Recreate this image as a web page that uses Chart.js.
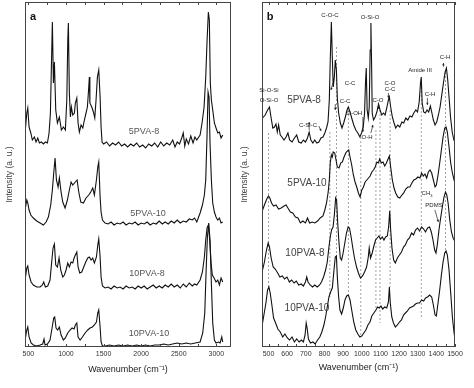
<!DOCTYPE html>
<html>
<head>
<meta charset="utf-8">
<script src="https://cdn.jsdelivr.net/npm/chart.js@4.4.1/dist/chart.umd.min.js"></script>
<style>
  body { margin: 0; background: #fff; }
  #wrap { position: relative; width: 474px; height: 388px; font-family: "Liberation Sans", Arial, sans-serif; }
  canvas { position: absolute; top: 0; }
  .lbl { position: absolute; white-space: nowrap; transform: translate(-50%, -50%); line-height: 1; }
</style>
</head>
<body>
<div id="wrap">
  <canvas id="chartA" width="237" height="388" style="left:0"></canvas>
  <canvas id="chartB" width="237" height="388" style="left:237px"></canvas>
</div>
<script>
'use strict';

// ---- panel a : full range spectra, [wavenumber, intensity (offset a.u.)]
var aTicks = [500, 1000, 1500, 2000, 2500, 3000];

var a5PVA8 = [[456,214],[479,234],[492,239],[509,220],[532,214],[553,207],[580,210],[602,205],[625,209],[646,204],[673,205],[700,203],[726,205],[753,204],[775,214],[793,234],[806,280],[819,325],[833,264],[846,285],[864,237],[886,224],[912,230],[939,217],[966,220],[992,217],[1011,247],[1024,307],[1032,324],[1045,254],[1059,230],[1072,240],[1090,232],[1112,234],[1125,244],[1144,249],[1161,224],[1178,215],[1201,222],[1224,219],[1245,227],[1267,234],[1285,240],[1303,260],[1311,270],[1318,244],[1343,240],[1365,235],[1383,229],[1400,247],[1418,270],[1436,277],[1454,250],[1467,220],[1480,205],[1500,203],[1540,205],[1580,201],[1620,204],[1660,202],[1700,205],[1740,201],[1780,203],[1820,200],[1860,203],[1900,201],[1940,204],[1980,200],[2020,202],[2060,199],[2100,203],[2140,201],[2180,204],[2220,200],[2260,205],[2300,201],[2340,204],[2380,202],[2420,207],[2450,200],[2480,205],[2510,203],[2540,209],[2560,214],[2580,201],[2600,208],[2630,203],[2660,211],[2690,204],[2715,210],[2740,207],[2784,212],[2810,224],[2837,240],[2859,270],[2877,307],[2894,335],[2907,327],[2920,264],[2934,247],[2952,237],[2974,224],[2996,219],[3019,214],[3041,215],[3063,209],[3085,212]];

var a5PVA10 = [[456,137],[479,147],[492,144],[509,137],[532,132],[566,129],[611,126],[656,124],[700,122],[735,125],[766,130],[797,142],[819,157],[837,174],[855,189],[873,167],[895,160],[912,169],[935,155],[957,145],[988,139],[1019,147],[1045,157],[1068,165],[1090,162],[1125,165],[1148,167],[1170,155],[1197,145],[1232,144],[1267,149],[1303,152],[1329,155],[1356,159],[1378,152],[1405,167],[1423,180],[1436,185],[1454,150],[1467,135],[1485,127],[1520,124],[1560,123],[1600,125],[1640,122],[1680,124],[1720,123],[1760,125],[1800,122],[1840,124],[1880,123],[1920,125],[1960,122],[2000,124],[2040,123],[2080,125],[2120,122],[2160,124],[2200,123],[2240,126],[2280,123],[2320,125],[2360,123],[2400,126],[2440,124],[2480,127],[2520,124],[2560,126],[2600,125],[2640,128],[2680,127],[2710,129],[2740,125],[2784,134],[2815,142],[2841,152],[2859,167],[2877,214],[2890,255],[2903,250],[2916,204],[2934,167],[2952,144],[2974,135],[2996,130],[3019,127],[3041,129],[3063,124],[3085,125]];

var a10PVA8 = [[456,67],[479,79],[492,81],[509,72],[536,65],[566,62],[611,60],[656,60],[686,62],[704,65],[726,60],[757,61],[788,67],[810,85],[828,99],[846,103],[864,82],[886,80],[908,89],[930,77],[957,70],[979,72],[1001,77],[1024,84],[1045,80],[1068,85],[1090,84],[1108,89],[1125,92],[1144,95],[1161,80],[1183,74],[1210,75],[1236,80],[1263,85],[1290,89],[1311,90],[1334,87],[1356,89],[1378,84],[1405,90],[1423,102],[1436,108],[1454,90],[1467,70],[1485,61],[1520,59],[1560,60],[1600,58],[1640,61],[1680,59],[1720,60],[1760,58],[1800,61],[1840,59],[1880,60],[1920,58],[1960,61],[2000,59],[2040,61],[2080,58],[2120,60],[2160,62],[2200,59],[2240,61],[2280,59],[2320,62],[2360,60],[2400,63],[2440,60],[2480,62],[2520,59],[2560,63],[2600,60],[2640,64],[2680,61],[2710,63],[2740,62],[2784,67],[2815,75],[2841,90],[2859,107],[2877,119],[2894,122],[2912,107],[2930,84],[2947,72],[2970,69],[2996,65],[3019,67],[3041,62],[3063,69],[3085,65]];

var a10PVA10 = [[456,7],[479,17],[492,20],[509,10],[536,4],[566,2],[611,1],[656,2],[691,3],[708,8],[722,2],[753,3],[788,7],[815,19],[837,29],[850,30],[868,19],[890,17],[912,20],[935,12],[966,7],[992,9],[1024,14],[1054,17],[1081,19],[1108,18],[1125,22],[1144,24],[1161,10],[1188,7],[1219,10],[1254,14],[1290,17],[1320,19],[1352,20],[1378,22],[1405,25],[1423,34],[1436,37],[1454,20],[1467,5],[1485,1],[1520,1],[1580,2],[1640,1],[1700,2],[1760,1],[1820,2],[1880,1],[1940,2],[2000,1],[2060,2],[2120,1],[2180,2],[2240,2],[2300,3],[2360,2],[2420,3],[2480,4],[2540,3],[2600,4],[2660,3],[2720,4],[2784,5],[2819,14],[2846,34],[2863,74],[2881,110],[2899,124],[2916,107],[2934,64],[2952,24],[2974,7],[2996,4],[3028,5],[3050,4],[3072,10],[3085,5]];

// ---- panel b : fingerprint region
var bTicks = [500, 600, 700, 800, 900, 1000, 1100, 1200, 1300, 1400, 1500];

var b5PVA8 = [[468,229],[482,232],[495,237],[505,240],[514,229],[523,219],[532,220],[540,223],[547,215],[554,222],[563,212],[572,210],[583,207],[594,210],[604,214],[613,207],[626,205],[639,209],[651,212],[662,205],[675,204],[687,207],[698,205],[709,209],[718,215],[727,207],[738,204],[748,207],[759,204],[770,205],[781,209],[792,210],[802,214],[811,219],[819,225],[826,247],[831,287],[837,325],[842,290],[847,260],[853,270],[858,287],[864,277],[869,249],[876,234],[885,224],[894,219],[903,224],[912,230],[921,237],[928,240],[937,235],[946,229],[957,222],[968,217],[979,214],[990,210],[999,214],[1008,220],[1015,234],[1020,264],[1024,279],[1029,237],[1035,229],[1040,240],[1045,297],[1049,324],[1053,280],[1056,234],[1063,227],[1072,230],[1081,235],[1090,243],[1098,237],[1107,232],[1116,234],[1125,232],[1134,239],[1143,247],[1148,250],[1155,240],[1164,230],[1173,224],[1182,219],[1193,222],[1204,220],[1215,225],[1225,224],[1236,229],[1247,227],[1258,231],[1269,230],[1279,234],[1290,237],[1299,235],[1308,245],[1315,264],[1319,270],[1324,244],[1332,235],[1341,234],[1350,237],[1359,235],[1368,241],[1375,235],[1384,227],[1393,222],[1402,225],[1411,232],[1420,240],[1429,252],[1438,264],[1447,275],[1454,279],[1461,267],[1468,250],[1476,230],[1485,215],[1494,207],[1501,205]];

var b5PVA10 = [[468,137],[482,144],[493,149],[500,151],[507,149],[516,144],[527,141],[540,142],[554,138],[568,139],[583,141],[594,142],[604,139],[617,135],[630,134],[644,130],[658,129],[671,124],[684,126],[698,124],[709,129],[720,124],[734,125],[748,124],[763,126],[777,129],[792,131],[802,137],[811,144],[820,155],[826,167],[831,184],[837,192],[842,190],[847,195],[855,194],[862,187],[869,180],[878,179],[887,184],[896,185],[905,190],[914,194],[923,196],[930,197],[937,190],[946,182],[955,172],[964,165],[973,160],[982,154],[991,150],[1000,157],[1009,160],[1018,165],[1027,167],[1036,169],[1045,171],[1054,175],[1063,177],[1072,180],[1081,185],[1089,184],[1096,188],[1105,184],[1114,185],[1123,181],[1132,184],[1141,188],[1148,191],[1155,180],[1164,167],[1173,159],[1182,154],[1193,150],[1204,149],[1215,152],[1225,154],[1236,158],[1247,160],[1258,160],[1269,164],[1279,167],[1290,168],[1301,170],[1312,169],[1321,174],[1330,171],[1339,173],[1348,169],[1357,175],[1366,177],[1375,174],[1384,167],[1393,160],[1400,162],[1409,172],[1418,184],[1427,197],[1436,210],[1445,219],[1452,220],[1459,215],[1468,200],[1477,184],[1486,174],[1495,167],[1501,164]];

var b10PVA8 = [[468,77],[478,85],[489,97],[498,104],[505,100],[514,89],[525,80],[536,78],[549,74],[561,70],[574,71],[586,68],[599,70],[612,65],[624,67],[637,64],[649,66],[662,62],[675,63],[687,61],[698,65],[705,70],[712,65],[723,62],[736,60],[748,62],[761,60],[774,62],[784,65],[795,70],[806,77],[815,85],[824,100],[831,110],[838,117],[846,120],[853,132],[860,149],[865,147],[871,124],[878,104],[885,89],[892,87],[900,94],[909,104],[918,114],[927,120],[934,119],[943,110],[952,99],[961,89],[972,80],[982,74],[993,69],[1004,71],[1015,75],[1026,80],[1035,90],[1040,99],[1047,89],[1056,94],[1065,101],[1074,107],[1083,109],[1092,111],[1101,108],[1110,110],[1119,107],[1128,110],[1137,111],[1144,120],[1150,136],[1155,117],[1162,99],[1171,87],[1180,84],[1191,89],[1202,92],[1213,95],[1224,100],[1234,102],[1245,107],[1256,109],[1267,114],[1278,112],[1288,117],[1299,119],[1310,116],[1321,120],[1332,118],[1342,115],[1353,119],[1364,120],[1373,115],[1382,107],[1391,97],[1398,94],[1405,102],[1414,117],[1423,129],[1432,140],[1441,150],[1449,155],[1456,152],[1463,144],[1472,127],[1481,115],[1490,109],[1501,105]];

var b10PVA10 = [[468,24],[477,34],[486,44],[495,57],[502,60],[509,54],[518,42],[527,29],[538,24],[550,18],[563,15],[576,10],[588,13],[601,9],[613,7],[626,10],[639,5],[651,8],[664,5],[676,7],[687,5],[696,12],[702,24],[707,19],[714,8],[725,4],[738,5],[750,3],[763,7],[775,10],[786,15],[797,22],[806,30],[815,40],[824,50],[833,55],[842,59],[851,77],[858,90],[864,91],[869,70],[876,50],[883,37],[892,33],[901,39],[910,47],[919,51],[928,52],[937,47],[946,37],[957,25],[968,17],[979,13],[990,10],[1000,11],[1011,14],[1022,17],[1033,22],[1044,25],[1054,31],[1065,34],[1076,37],[1085,40],[1094,39],[1103,41],[1112,38],[1123,40],[1134,39],[1143,45],[1148,60],[1153,44],[1161,30],[1170,24],[1180,20],[1191,22],[1202,25],[1213,27],[1224,32],[1234,34],[1245,36],[1256,39],[1267,40],[1278,41],[1288,43],[1299,44],[1310,44],[1321,47],[1332,46],[1342,49],[1353,50],[1364,52],[1375,50],[1384,42],[1393,32],[1400,31],[1409,44],[1418,57],[1427,72],[1436,85],[1445,94],[1452,96],[1459,92],[1468,77],[1477,54],[1486,30],[1495,14],[1501,7]];

// dotted band markers in panel b
var bandWave   = [500, 829, 864, 928, 995, 1076, 1098, 1152, 1319, 1449];
var bandTop    = [214, 215, 300, 237, 210, 217, 237, 237, 264, 275];
var bandBottom = [60, 50, 90, 52, 10, 37, 24, 60, 30, 94];

// little pointer arrows of the band labels, [wn from, int from, wn to, int to]
var bArrows = [
  [845, 264, 835, 257], [858, 243, 858, 237], [1006, 230, 1006, 215],
  [770, 221, 782, 216], [718, 217, 718, 225], [1049, 214, 1060, 222],
  [1090, 243, 1090, 238], [1143, 254, 1143, 249], [1352, 249, 1352, 242],
  [1438, 280, 1438, 284], [1392, 137, 1411, 125]
];

function pts(arr) {
  return arr.map(function (p) { return { x: p[0], y: p[1] }; });
}

function spectrum(arr) {
  return {
    data: pts(arr),
    borderColor: '#111',
    borderWidth: 1.1,
    pointRadius: 0,
    tension: 0,
    fill: false
  };
}

var framePlugin = {
  id: 'frame',
  afterDatasetsDraw: function (chart, args, opts) {
    var ctx = chart.ctx, a = chart.chartArea, x = chart.scales.x, y = chart.scales.y;
    ctx.save();
    ctx.strokeStyle = '#444';
    ctx.lineWidth = 1;
    ctx.strokeRect(Math.round(a.left) + 0.5, Math.round(a.top) + 0.5,
      Math.round(a.right - a.left) - 1, Math.round(a.bottom - a.top) - 1);
    ctx.beginPath();
    var first = Math.ceil(x.min / opts.minor) * opts.minor;
    for (var v = first; v <= x.max + 0.001; v += opts.minor) {
      var px = Math.round(x.getPixelForValue(v)) + 0.5;
      ctx.moveTo(px, a.top); ctx.lineTo(px, a.top + 3);
      ctx.moveTo(px, a.bottom); ctx.lineTo(px, a.bottom - 3);
    }
    ctx.stroke();

    // pointer arrows
    (opts.arrows || []).forEach(function (r) {
      var x1 = x.getPixelForValue(r[0]), y1 = y.getPixelForValue(r[1]);
      var x2 = x.getPixelForValue(r[2]), y2 = y.getPixelForValue(r[3]);
      var ang = Math.atan2(y2 - y1, x2 - x1);
      ctx.strokeStyle = '#222';
      ctx.fillStyle = '#222';
      ctx.lineWidth = 0.7;
      ctx.beginPath(); ctx.moveTo(x1, y1); ctx.lineTo(x2, y2); ctx.stroke();
      ctx.beginPath();
      ctx.moveTo(x2, y2);
      ctx.lineTo(x2 - 2.5 * Math.cos(ang - 0.5), y2 - 2.5 * Math.sin(ang - 0.5));
      ctx.lineTo(x2 - 2.5 * Math.cos(ang + 0.5), y2 - 2.5 * Math.sin(ang + 0.5));
      ctx.closePath(); ctx.fill();
    });
    ctx.restore();
  }
};

function makeChart(id, datasets, xmin, xmax, ticks, minor, padRight, titleBottom, yTitlePad, arrows) {
  return new Chart(document.getElementById(id), {
    type: 'line',
    data: { datasets: datasets },
    plugins: [framePlugin],
    options: {
      responsive: false,
      animation: false,
      events: [],
      layout: { padding: { left: 0, right: padRight, top: 2, bottom: 0 } },
      plugins: { legend: { display: false }, tooltip: { enabled: false }, frame: { minor: minor, arrows: arrows } },
      scales: {
        x: {
          type: 'linear', min: xmin, max: xmax,
          afterBuildTicks: function (s) { s.ticks = ticks.map(function (v) { return { value: v }; }); },
          afterFit: function (s) { s.height = 41; },
          grid: { display: false, drawTicks: false },
          border: { display: false },
          ticks: { color: '#333', font: { size: 7, family: '"Liberation Sans", Arial' }, padding: 3, maxRotation: 0,
                   callback: function (v) { return String(v); } },
          title: { display: true, text: 'Wavenumber (cm\u207B\u00B9)', color: '#222',
                   font: { size: 9, family: '"Liberation Sans", Arial' }, padding: { top: 0, bottom: titleBottom } }
        },
        y: {
          min: 0, max: 345,
          afterFit: function (s) { s.width = 25; },
          grid: { display: false, drawTicks: false },
          border: { display: false },
          ticks: { display: false },
          title: { display: true, text: 'Intensity (a. u.)', color: '#444',
                   font: { size: 8.5, family: '"Liberation Sans", Arial' }, padding: { top: yTitlePad, bottom: 0 } }
        }
      }
    }
  });
}

var bandSets = bandWave.map(function (w, i) {
  return {
    data: [{ x: w, y: bandTop[i] }, { x: w, y: bandBottom[i] }],
    borderColor: '#8a8a8a',
    borderWidth: 0.8,
    borderDash: [2, 2],
    pointRadius: 0
  };
});

makeChart('chartA',
  [spectrum(a5PVA8), spectrum(a5PVA10), spectrum(a10PVA8), spectrum(a10PVA10)],
  455, 3195, aTicks, 250, 6, 13, 5, []);

makeChart('chartB',
  [spectrum(b5PVA8), spectrum(b5PVA10), spectrum(b10PVA8), spectrum(b10PVA10)].concat(bandSets),
  465, 1500, bTicks, 50, 19, 15, 3, bArrows);

// text labels
var notes = [
  ['a', 33, 16, 11, 'bold', '#111'],
  ['b', 270, 16, 11, 'bold', '#111'],
  ['5PVA-8', 144, 131, 9, 'normal', '#555'],
  ['5PVA-10', 148, 213, 9, 'normal', '#555'],
  ['10PVA-8', 147, 273, 9, 'normal', '#555'],
  ['10PVA-10', 149, 333, 9, 'normal', '#555'],
  ['5PVA-8', 304, 100, 10, 'normal', '#444'],
  ['5PVA-10', 307, 183, 10, 'normal', '#444'],
  ['10PVA-8', 305, 253, 10, 'normal', '#444'],
  ['10PVA-10', 307, 308, 10, 'normal', '#444'],
  ['C-O-C', 330, 15, 6, 'normal', '#222'],
  ['O-Si-O', 370, 17, 6, 'normal', '#222'],
  ['Si-O-Si', 269, 90, 6, 'normal', '#222'],
  ['O-Si-O', 269, 100, 6, 'normal', '#222'],
  ['C-C', 350, 83, 6, 'normal', '#222'],
  ['C-C', 345, 101, 6, 'normal', '#222'],
  ['Si-OH', 354, 113, 6, 'normal', '#222'],
  ['C-Si-C', 308, 125, 6, 'normal', '#222'],
  ['O-H', 367, 137, 6, 'normal', '#222'],
  ['C-O', 378, 100, 6, 'normal', '#222'],
  ['C-O', 390, 83, 6, 'normal', '#222'],
  ['C-C', 390, 89, 6, 'normal', '#222'],
  ['C-H', 430, 94, 6, 'normal', '#222'],
  ['Amide III', 420, 70, 6, 'normal', '#222'],
  ['C-H', 445, 57, 6, 'normal', '#222'],
  ['CH<sub style="font-size:4px">3</sub>', 427, 194, 6, 'normal', '#222'],
  ['PDMS', 434, 205, 6, 'normal', '#222']
];

var wrap = document.getElementById('wrap');
notes.forEach(function (n) {
  var d = document.createElement('div');
  d.className = 'lbl';
  d.innerHTML = n[0];
  d.style.left = n[1] + 'px';
  d.style.top = n[2] + 'px';
  d.style.fontSize = n[3] + 'px';
  d.style.fontWeight = n[4];
  d.style.color = n[5];
  wrap.appendChild(d);
});
</script>
</body>
</html>
